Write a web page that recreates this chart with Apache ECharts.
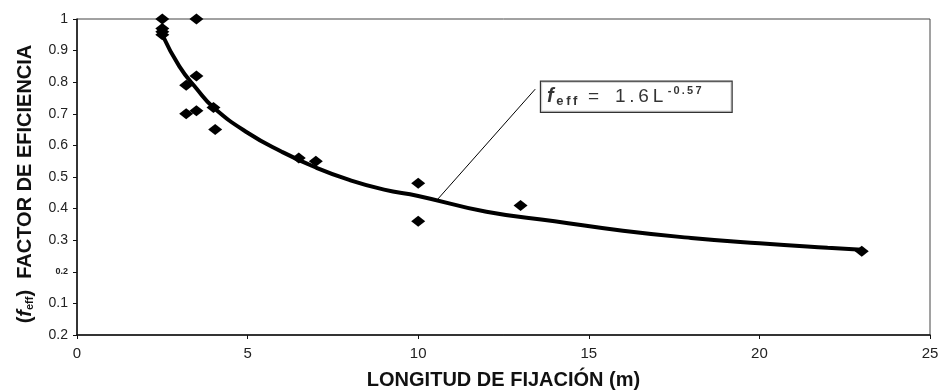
<!DOCTYPE html>
<html><head><meta charset="utf-8">
<script src="https://cdn.jsdelivr.net/npm/echarts@6/dist/echarts.min.js"></script>
<style>html,body{margin:0;padding:0;background:#fff}#c{width:938px;height:392px}</style>
</head><body><div id="c"></div>
<script>
// Measured points: longitud (m), factor de eficiencia
const pointsX = [2.5, 2.5, 2.5, 2.5, 3.5, 3.5, 3.2, 3.2, 3.5, 4.0, 4.05, 6.5, 7.0, 10.0, 10.0, 13.0, 23.0];
const pointsY = [1.0, 0.97, 0.96, 0.95, 1.0, 0.82, 0.79, 0.70, 0.71, 0.72, 0.65, 0.56, 0.55, 0.48, 0.36, 0.41, 0.265];
// Fitted curve
const curveX = [2.5, 3, 3.5, 4, 5, 6, 7, 8, 9, 10, 12, 14, 16, 18, 20, 22, 23];
const curveY = [0.95, 0.85, 0.78, 0.72, 0.64, 0.58, 0.53, 0.49, 0.46, 0.44, 0.39, 0.36, 0.33, 0.307, 0.29, 0.276, 0.27];
// Leader line from curve to equation box
const leaderX = [10.55, 13.43];
const leaderY = [0.427, 0.778];
const boxAnchor = [13.6, 0.754];
// Y tick labels as printed (bottom to top)
const yTickLabels = ['0.2', '0.1', '0.2', '0.3', '0.4', '0.5', '0.6', '0.7', '0.8', '0.9', '1'];
const xTicks = [0, 5, 10, 15, 20, 25];

const FONT = 'Liberation Sans, Arial, sans-serif';
const T = '\u2009';
const chart = echarts.init(document.getElementById('c'));
const zip = (a, b) => a.map((v, i) => [v, b[i]]);
chart.setOption({
  animation: false,
  backgroundColor: '#fff',
  grid: { left: 77, right: 8, top: 19, bottom: 57, show: true, borderColor: '#444', borderWidth: 1,
    containLabel: false, outerBoundsMode: 'none' },
  xAxis: {
    type: 'value', min: 0, max: 25, interval: 5,
    name: 'LONGITUD DE FIJACIÓN (m)', nameLocation: 'middle', nameGap: 35,
    nameTextStyle: { fontFamily: FONT, fontWeight: 'bold', fontSize: 20, color: '#111' },
    axisLine: { lineStyle: { color: '#111', width: 1.5 } },
    axisTick: { show: true, length: 4, inside: false, lineStyle: { color: '#111' } },
    axisLabel: { fontFamily: FONT, fontSize: 15, color: '#222', margin: 11,
      formatter: v => xTicks.indexOf(v) >= 0 ? String(v) : '' },
    splitLine: { show: false }
  },
  yAxis: {
    type: 'value', min: 0, max: 1, interval: 0.1,
    name: '{p|(}{f|f}{s|eff}{p|)}{p|  FACTOR DE EFICIENCIA}', nameLocation: 'middle', nameGap: 42, nameRotate: 90,
    nameTextStyle: { fontFamily: FONT, fontWeight: 'bold', fontSize: 20, color: '#111', padding: [0, 14, 0, 0],
      rich: {
        p: { fontFamily: FONT, fontWeight: 'bold', fontSize: 20, color: '#111' },
        f: { fontFamily: FONT, fontWeight: 'bold', fontStyle: 'italic', fontSize: 20, color: '#111' },
        s: { fontFamily: FONT, fontWeight: 'bold', fontSize: 11, color: '#111', verticalAlign: 'bottom' }
      } },
    axisLine: { show: true, lineStyle: { color: '#111', width: 1.5 } },
    axisTick: { show: true, length: 4, lineStyle: { color: '#111' } },
    axisLabel: { fontFamily: FONT, fontSize: 14, color: '#222', margin: 9,
      formatter: v => {
        const i = Math.round(v * 10);
        const t = yTickLabels[i];
        return i === 2 ? '{sm|' + t + '}' : t;
      },
      rich: { sm: { fontFamily: FONT, fontSize: 9, fontWeight: 'bold', color: '#222' } } },
    splitLine: { show: false }
  },
  series: [
    {
      type: 'line', data: zip(curveX, curveY), smooth: true, symbol: 'none',
      lineStyle: { color: '#000', width: 4 }, z: 3
    },
    {
      type: 'scatter', data: zip(pointsX, pointsY), symbol: 'diamond', symbolSize: [14, 11],
      itemStyle: { color: '#000', opacity: 1 }, z: 4
    },
    {
      type: 'line', data: zip(leaderX, leaderY), symbol: 'none',
      lineStyle: { color: '#000', width: 1 }, z: 2
    },
    {
      type: 'scatter', data: [boxAnchor], symbolSize: 0, z: 5,
      label: {
        show: true, position: 'right', distance: 0,
        backgroundColor: '#fff', borderColor: '#000', borderWidth: 1.2,
        padding: [4, 30, 4, 6],
        formatter: '{f|f}{s|' + T + 'e' + T + 'f' + T + 'f}{t|  =   1' + T + '.' + T + '6' + T + 'L}{e|' + T + T + '-' + T + '0' + T + '.' + T + '5' + T + '7}',
        rich: {
          f: { fontFamily: FONT, fontStyle: 'italic', fontWeight: 'bold', fontSize: 20, color: '#000' },
          s: { fontFamily: FONT, fontSize: 13, fontWeight: 'bold', color: '#000', verticalAlign: 'bottom', padding: [9, 0, 0, 0] },
          t: { fontFamily: FONT, fontSize: 19, color: '#000' },
          e: { fontFamily: FONT, fontSize: 11, fontWeight: 'bold', color: '#000', verticalAlign: 'top', padding: [0, 0, 11, 0] }
        }
      }
    }
  ]
});
</script>
</body></html>
